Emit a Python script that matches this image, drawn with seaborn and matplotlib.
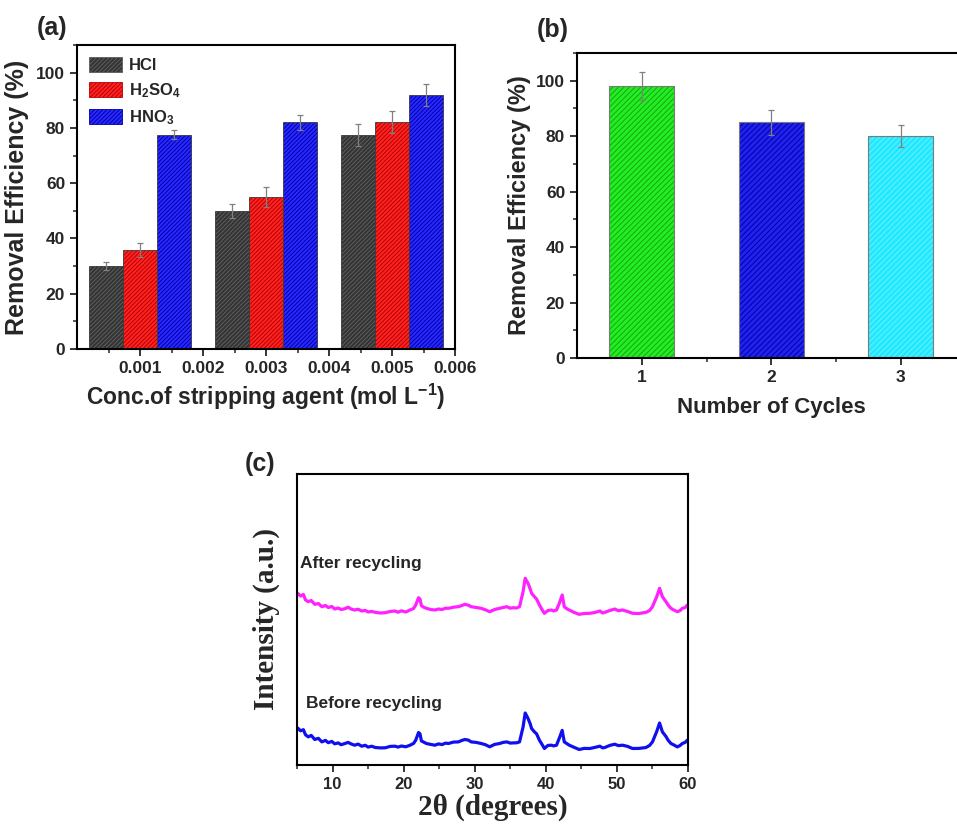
import pandas as pd
import matplotlib
matplotlib.use("Agg")
import matplotlib.pyplot as plt
import matplotlib.patches as mpatches
from matplotlib.colors import to_rgba
from matplotlib.ticker import MultipleLocator, FixedLocator
import seaborn as sns

# ---- (a) removal efficiency vs stripping agent concentration
conc = [0.001, 0.003, 0.005]
acids = ["HCl", "H$_2$SO$_4$", "HNO$_3$"]
eff_hcl = [30.0, 50.0, 77.5]
eff_h2so4 = [35.7, 55.0, 82.0]
eff_hno3 = [77.5, 82.0, 92.0]
err_hcl = [1.5, 2.5, 4.0]
err_h2so4 = [2.5, 3.5, 4.0]
err_hno3 = [1.6, 2.7, 4.0]

# ---- (b) removal efficiency vs cycle number
cycles = ["1", "2", "3"]
eff_cycles = [98.0, 85.0, 80.0]
err_cycles = [5.0, 4.5, 4.0]

# ---- (c) XRD patterns (intensity in arbitrary units)
two_theta = [5.1, 5.5, 5.9, 6.2, 6.6, 7.0, 7.5, 8.0, 8.5, 9.0,
             9.4, 9.9, 10.3, 10.8, 11.2, 11.7, 12.2, 12.6, 13.1, 13.6,
             14.1, 14.6, 15.0, 15.5, 16.0, 16.7, 17.4, 18.1, 18.8, 19.2,
             19.7, 20.3, 20.9, 21.4, 21.7, 22.1, 22.3, 22.5, 22.9, 23.2,
             23.8, 24.4, 24.9, 25.4, 25.9, 26.3, 27.0, 27.7, 28.2, 28.6,
             29.1, 29.5, 30.2, 30.9, 31.5, 32.1, 32.8, 33.5, 34.0, 34.5,
             35.0, 35.4, 35.9, 36.3, 36.8, 37.1, 37.3, 37.5, 37.8, 38.0,
             38.4, 38.7, 39.1, 39.5, 39.8, 40.3, 40.8, 41.1, 41.5, 41.9,
             42.3, 42.6, 43.0, 43.3, 44.0, 44.7, 45.4, 46.2, 46.9, 47.6,
             48.0, 48.3, 49.0, 49.7, 50.2, 50.8, 51.5, 52.2, 53.1, 54.1,
             54.6, 55.0, 55.6, 56.0, 56.4, 56.9, 57.2, 57.6, 58.0, 58.5,
             58.9, 59.2, 59.6, 59.9]
after = [171.7, 169.0, 170.5, 165.0, 163.3, 164.5, 160.7, 161.5, 158.3, 159.5,
         157.5, 158.5, 156.0, 157.0, 155.5, 156.2, 157.8, 156.0, 155.0, 155.8,
         154.0, 154.6, 153.0, 153.6, 152.7, 152.0, 152.3, 153.5, 154.0, 152.8,
         154.2, 153.0, 155.0, 156.5, 160.0, 167.3, 166.0, 159.3, 157.5, 156.7,
         155.5, 155.0, 156.0, 155.5, 156.8, 156.7, 157.8, 158.3, 159.5, 160.7,
         159.8, 158.3, 157.5, 156.7, 155.2, 153.3, 155.5, 156.7, 157.5, 158.3,
         156.8, 157.3, 157.0, 158.3, 173.3, 186.7, 184.0, 181.7, 176.0, 171.7,
         168.3, 166.0, 160.0, 155.0, 151.7, 154.5, 155.0, 154.0, 155.0, 161.7,
         170.0, 158.3, 156.0, 155.0, 152.5, 150.7, 151.5, 151.7, 152.5, 154.0,
         152.0, 152.7, 154.5, 156.0, 154.3, 155.0, 153.5, 151.7, 151.5, 152.7,
         154.5, 158.3, 168.3, 176.7, 168.3, 163.3, 160.0, 156.7, 155.0, 153.3,
         154.5, 156.7, 157.5, 160.0]
before = [36.9, 34.2, 35.3, 30.2, 28.1, 29.6, 25.5, 26.7, 23.1, 24.6,
          22.3, 23.6, 21.2, 22.1, 20.3, 21.4, 22.6, 21.1, 19.8, 20.9,
          18.8, 19.7, 17.9, 18.8, 17.5, 17.1, 17.2, 18.6, 18.8, 17.9,
          19.0, 18.2, 19.8, 21.6, 24.8, 32.5, 31.2, 24.1, 22.6, 21.5,
          20.6, 19.8, 21.1, 20.4, 21.9, 21.5, 22.9, 23.1, 24.6, 25.5,
          24.9, 23.1, 22.6, 21.5, 20.3, 18.2, 20.6, 21.5, 22.6, 23.1,
          21.9, 22.1, 22.2, 23.1, 38.0, 52.0, 49.3, 46.5, 41.2, 36.5,
          33.1, 31.2, 24.8, 20.2, 16.5, 19.6, 19.8, 19.1, 19.8, 26.9,
          34.6, 23.1, 21.2, 19.8, 17.6, 15.5, 16.6, 16.5, 17.6, 18.8,
          17.1, 17.5, 19.6, 20.8, 19.4, 19.8, 18.6, 16.5, 16.6, 17.5,
          19.6, 23.1, 33.5, 42.0, 33.1, 28.5, 24.8, 21.5, 20.1, 18.1,
          19.6, 21.5, 22.6, 24.8]

colors_a = ["#333333", "#ff2424", "#2a2aff"]
hatch_a = ["#5e5e5e", "#b80000", "#0000a8"]
colors_b = ["#22ee22", "#2222ee", "#22e8ff"]
hatch_b = ["#17a517", "#0000a8", "#66f2ff"]

sns.set_style("ticks")
plt.rcParams["font.family"] = ["Liberation Sans", "DejaVu Sans"]
plt.rcParams["font.weight"] = "bold"
plt.rcParams["axes.labelweight"] = "bold"
plt.rcParams["mathtext.fontset"] = "custom"
plt.rcParams["mathtext.bf"] = "Liberation Sans:bold"
plt.rcParams["mathtext.rm"] = "Liberation Sans:bold"
plt.rcParams["mathtext.default"] = "bf"
plt.rcParams["hatch.linewidth"] = 0.7


def set_hatch_color(patch, color):
    if hasattr(patch, "set_hatchcolor"):
        patch.set_hatchcolor(color)
    else:
        patch._hatch_color = to_rgba(color)


def style_axes(ax, labelsize=12.5):
    for sp in ax.spines.values():
        sp.set_linewidth(1.5)
        sp.set_color("black")
        sp.set_visible(True)
    ax.tick_params(which="major", direction="out", length=5, width=1.3, labelsize=labelsize)
    ax.tick_params(which="minor", direction="out", length=3, width=1.1)
    for lab in ax.get_xticklabels() + ax.get_yticklabels():
        lab.set_fontweight("bold")


W, H = 957, 824
fig = plt.figure(figsize=(W / 100, H / 100), dpi=100)
ax_a = fig.add_axes([77 / W, 1 - 349 / H, 378 / W, 304 / H])
ax_b = fig.add_axes([577 / W, 1 - 358 / H, 388.5 / W, 305 / H])
ax_c = fig.add_axes([297 / W, 1 - 765 / H, 391 / W, 291 / H])

# ---------------- (a)
df_a = pd.DataFrame({
    "conc": conc * 3,
    "acid": [a for a in acids for _ in conc],
    "eff": eff_hcl + eff_h2so4 + eff_hno3,
    "err": err_hcl + err_h2so4 + err_hno3,
})
sns.barplot(data=df_a, x="conc", y="eff", hue="acid", hue_order=acids,
            palette=colors_a, native_scale=True, width=0.81, gap=0,
            saturation=1, errorbar=None, legend=False, ax=ax_a)
bars_a = [p for p in ax_a.patches if isinstance(p, mpatches.Rectangle)]
xs, ys = [], []
for i, p in enumerate(bars_a):
    k = i // len(conc)
    p.set_edgecolor("#3a3a3a")
    p.set_linewidth(0.6)
    p.set_hatch("////////")
    set_hatch_color(p, hatch_a[k])
    xs.append(p.get_x() + p.get_width() / 2)
    ys.append(p.get_height())
ax_a.errorbar(xs, ys, yerr=df_a["err"].tolist(), fmt="none", ecolor="#808080",
              elinewidth=0.9, capsize=2.5, capthick=0.9, zorder=3)
ax_a.set_xlim(0, 0.006)
ax_a.set_ylim(0, 110)
ax_a.xaxis.set_major_locator(FixedLocator([0.001, 0.002, 0.003, 0.004, 0.005, 0.006]))
ax_a.xaxis.set_minor_locator(FixedLocator([0.0005, 0.0015, 0.0025, 0.0035, 0.0045, 0.0055]))
ax_a.set_xticklabels(["0.001", "0.002", "0.003", "0.004", "0.005", "0.006"])
ax_a.yaxis.set_major_locator(MultipleLocator(20))
ax_a.yaxis.set_minor_locator(MultipleLocator(10))
ax_a.set_xlabel("Conc.of stripping agent (mol L$^{-1}$)", fontsize=16.5, labelpad=4)
ax_a.set_ylabel("Removal Efficiency (%)", fontsize=18, labelpad=5)
style_axes(ax_a)
handles = [mpatches.Patch(facecolor=c, edgecolor=h, hatch="////////", lw=0.6, label=a)
           for c, h, a in zip(colors_a, hatch_a, acids)]
ax_a.legend(handles=handles, loc="upper left", frameon=False, fontsize=12,
            handlelength=2.0, handleheight=1.0, handletextpad=0.4,
            labelspacing=0.5, borderaxespad=0.3, bbox_to_anchor=(0.0, 1.0))

# ---------------- (b)
df_b = pd.DataFrame({"cycle": cycles, "eff": eff_cycles, "err": err_cycles})
sns.barplot(data=df_b, x="cycle", y="eff", hue="cycle", palette=colors_b,
            width=0.5, saturation=1, errorbar=None, legend=False, ax=ax_b)
bars_b = [p for p in ax_b.patches if isinstance(p, mpatches.Rectangle)]
xs_b, ys_b = [], []
for k, p in enumerate(bars_b):
    p.set_edgecolor("#7a7a7a")
    p.set_linewidth(0.8)
    p.set_hatch("//////")
    set_hatch_color(p, hatch_b[k])
    xs_b.append(p.get_x() + p.get_width() / 2)
    ys_b.append(p.get_height())
ax_b.errorbar(xs_b, ys_b, yerr=err_cycles, fmt="none", ecolor="#808080",
              elinewidth=0.9, capsize=2.5, capthick=0.9, zorder=3)
ax_b.set_xlim(-0.5, 2.5)
ax_b.set_ylim(0, 110)
ax_b.xaxis.set_minor_locator(FixedLocator([0.5, 1.5]))
ax_b.yaxis.set_major_locator(MultipleLocator(20))
ax_b.yaxis.set_minor_locator(MultipleLocator(10))
ax_b.set_xlabel("Number of Cycles", fontsize=16, labelpad=9)
ax_b.set_ylabel("Removal Efficiency (%)", fontsize=17, labelpad=4)
style_axes(ax_b)

# ---------------- (c)
df_c = pd.DataFrame({"theta": two_theta, "after": after, "before": before})
sns.lineplot(data=df_c, x="theta", y="after", color="#ff22ff", lw=2.3, ax=ax_c)
sns.lineplot(data=df_c, x="theta", y="before", color="#1010ee", lw=2.3, ax=ax_c)
ax_c.set_xlim(5, 60)
ax_c.set_ylim(0, 291)
ax_c.xaxis.set_major_locator(MultipleLocator(10))
ax_c.xaxis.set_minor_locator(MultipleLocator(5))
ax_c.set_yticks([])
ax_c.set_xlabel("2θ (degrees)", fontsize=21, family=["Liberation Serif", "DejaVu Serif"],
                fontweight="bold", labelpad=1)
ax_c.set_ylabel("Intensity (a.u.)", fontsize=21, family=["Liberation Serif", "DejaVu Serif"],
                fontweight="bold", labelpad=12)
style_axes(ax_c, labelsize=12)
ax_c.text(0.008, 0.694, "After recycling", transform=ax_c.transAxes, fontsize=12.5,
          fontweight="bold", va="center", ha="left")
ax_c.text(0.023, 0.213, "Before recycling", transform=ax_c.transAxes, fontsize=12.5,
          fontweight="bold", va="center", ha="left")

# panel letters
fig.text(52 / W, 1 - 28 / H, "(a)", fontsize=18, fontweight="bold", ha="center", va="center")
fig.text(553 / W, 1 - 30 / H, "(b)", fontsize=18, fontweight="bold", ha="center", va="center")
fig.text(260 / W, 1 - 464 / H, "(c)", fontsize=18, fontweight="bold", ha="center", va="center")

fig.savefig("out.png", dpi=100)
